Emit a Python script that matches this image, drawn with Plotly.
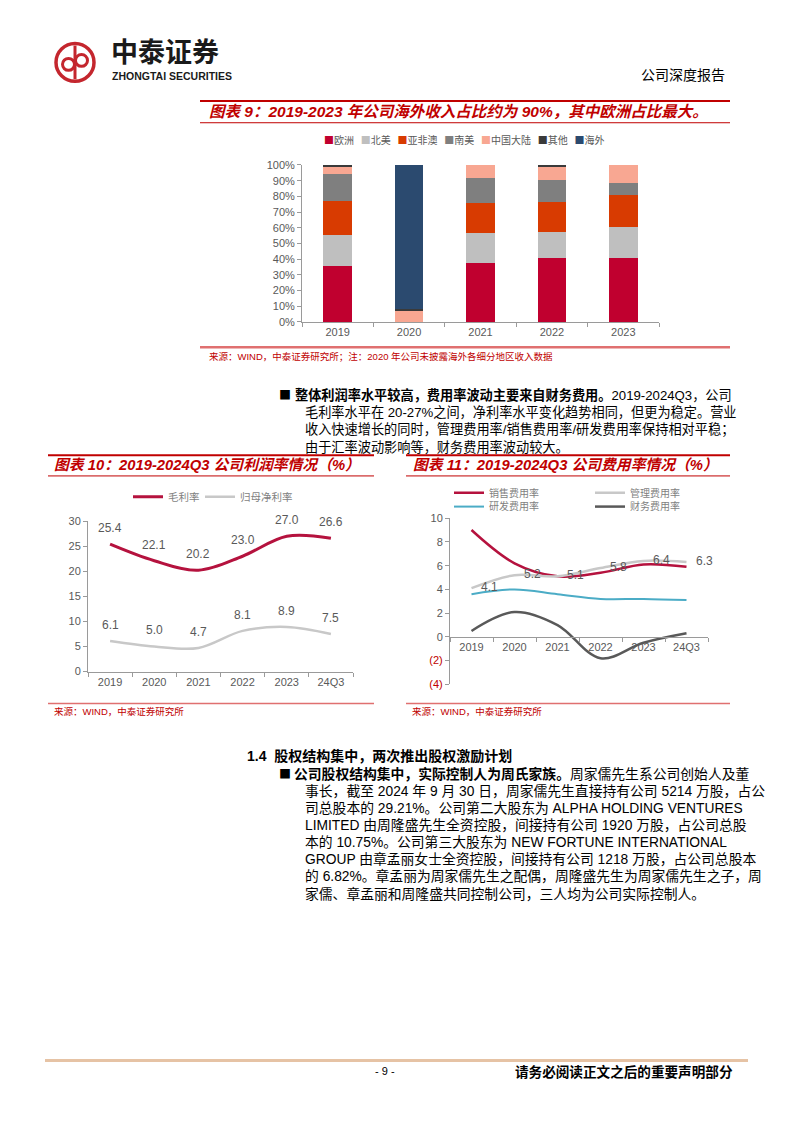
import plotly.graph_objects as go

W, H = 794, 1123


def px(x):
    return x / W


def py(y):
    return 1 - y / H


FONT = "Liberation Sans, Noto Sans CJK SC, sans-serif"
CJK = "Noto Sans CJK SC, Liberation Sans, sans-serif"
RED = "#C00000"

# ---------------- data: 图表9 ----------------
years9 = ["2019", "2020", "2021", "2022", "2023"]
europe = [35.9, 0, 37.4, 40.5, 40.5]
north_america = [19.3, 0, 19.5, 16.8, 20.0]
asia_africa_oceania = [22.1, 0, 19.1, 19.3, 20.4]
south_america = [16.8, 0, 16.0, 14.1, 7.8]
china_mainland = [5.0, 7.4, 8.0, 8.4, 11.3]
others = [0.9, 0.6, 0.0, 0.9, 0.0]
overseas = [0, 92.0, 0, 0, 0]
names9 = ["欧洲", "北美", "亚非澳", "南美", "中国大陆", "其他", "海外"]
colors9 = ["#C0002F", "#BFBFBF", "#D83B01", "#7F7F7F", "#F8A792", "#3A3A3A", "#2B4A6F"]

# ---------------- data: 图表10 / 11 ----------------
periods = ["2019", "2020", "2021", "2022", "2023", "24Q3"]
gross_margin = [25.4, 22.1, 20.2, 23.0, 27.0, 26.6]
net_margin = [6.1, 5.0, 4.7, 8.1, 8.9, 7.5]
selling_ratio = [9.0, 6.2, 5.1, 5.4, 6.1, 5.9]
admin_ratio = [4.1, 5.2, 5.1, 5.8, 6.4, 6.3]
rnd_ratio = [3.6, 4.0, 3.6, 3.2, 3.2, 3.1]
finance_ratio = [0.5, 2.1, 1.0, -1.8, -0.5, 0.3]

fig = go.Figure()

series9 = [europe, north_america, asia_africa_oceania, south_america,
           china_mainland, others, overseas]
for name, vals, col in zip(names9, series9, colors9):
    fig.add_trace(go.Bar(x=years9, y=vals, name=name, xaxis="x", yaxis="y",
                         marker=dict(color=col, line=dict(width=0)),
                         showlegend=False))

# chart 10
fig.add_trace(go.Scatter(x=periods, y=gross_margin, name="毛利率", mode="lines",
                         line=dict(color="#B5123E", width=3, shape="spline"),
                         xaxis="x2", yaxis="y2", legend="legend2"))
fig.add_trace(go.Scatter(x=periods, y=net_margin, name="归母净利率", mode="lines",
                         line=dict(color="#C8C8C8", width=2.5, shape="spline"),
                         xaxis="x2", yaxis="y2", legend="legend5"))

# chart 11
fig.add_trace(go.Scatter(x=periods, y=selling_ratio, name="销售费用率", mode="lines",
                         line=dict(color="#B5123E", width=2.5, shape="spline"),
                         xaxis="x3", yaxis="y3", legend="legend3"))
fig.add_trace(go.Scatter(x=periods, y=admin_ratio, name="管理费用率", mode="lines",
                         line=dict(color="#C8C8C8", width=2.5, shape="spline"),
                         xaxis="x3", yaxis="y3", legend="legend3"))
fig.add_trace(go.Scatter(x=periods, y=rnd_ratio, name="研发费用率", mode="lines",
                         line=dict(color="#4BACC6", width=2, shape="spline"),
                         xaxis="x3", yaxis="y3", legend="legend4"))
fig.add_trace(go.Scatter(x=periods, y=finance_ratio, name="财务费用率", mode="lines",
                         line=dict(color="#595959", width=2.5, shape="spline"),
                         xaxis="x3", yaxis="y3", legend="legend4"))

ann = []


def txt(x, y, text, size=13, color="#000000", anchor="left", family=CJK, **kw):
    ann.append(dict(x=px(x), y=py(y), xref="paper", yref="paper", text=text,
                    showarrow=False, xanchor=anchor, yanchor="middle",
                    font=dict(size=size, color=color, family=family), **kw))


LABF = dict(size=12, color="#595959", family=FONT)
# data labels chart 10 (category index positions)
for i, v in enumerate(gross_margin):
    ann.append(dict(x=i, y=v, xref="x2", yref="y2", text=f"{v:.1f}", showarrow=False,
                    yshift=16, font=LABF))
for i, v in enumerate(net_margin):
    ann.append(dict(x=i, y=v, xref="x2", yref="y2", text=f"{v:.1f}", showarrow=False,
                    yshift=16, font=LABF))
# data labels chart 11
for i, v in enumerate(admin_ratio):
    ann.append(dict(x=i, y=v, xref="x3", yref="y3", text=f"{v:.1f}", showarrow=False,
                    xshift=18, yshift=1, font=LABF))

# legend for chart 9 (compact square markers)
leg9 = "   ".join(f'<span style="color:{c}">■</span>{n}' for n, c in zip(names9, colors9))
txt(322, 135, leg9, size=10, color="#595959")

# header
txt(109, 45, "<b>中泰证券</b>", size=27, color="#1A1A1A")
txt(110, 71, "<b>ZHONGTAI SECURITIES</b>", size=10.5, color="#1A1A1A", family=FONT)
txt(727, 69, "公司深度报告", size=14, color="#000000", anchor="right")

# chart titles
txt(207, 107, "<b><i>图表 9：2019-2023 年公司海外收入占比约为 90%，其中欧洲占比最大。</i></b>",
    size=15.5, color=RED, family=FONT)
txt(52, 464, "<b><i>图表 10：2019-2024Q3 公司利润率情况（%）</i></b>",
    size=14.8, color=RED, family=FONT)
txt(411, 464, "<b><i>图表 11：2019-2024Q3 公司费用率情况（%）</i></b>",
    size=14.8, color=RED, family=FONT)

# sources
txt(207, 354, "来源：WIND，中泰证券研究所；注：2020 年公司未披露海外各细分地区收入数据",
    size=9.5, color=RED, family=FONT)
txt(52, 713, "来源：WIND，中泰证券研究所", size=9.5, color=RED, family=FONT)
txt(410, 713, "来源：WIND，中泰证券研究所", size=9.5, color=RED, family=FONT)

# paragraph 1
txt(277, 393, "■", size=12)
txt(293, 393, "<b>整体利润率水平较高，费用率波动主要来自财务费用。</b>2019-2024Q3，公司",
    size=13.2, family=FONT)
para1 = [
    "毛利率水平在 20-27%之间，净利率水平变化趋势相同，但更为稳定。营业",
    "收入快速增长的同时，管理费用率/销售费用率/研发费用率保持相对平稳；",
    "由于汇率波动影响等，财务费用率波动较大。",
]
for i, line in enumerate(para1):
    txt(303, 410.6 + 17.7 * i, line, size=13.2, family=FONT)

# section 1.4
txt(245, 758, "<b>1.4  股权结构集中，两次推出股权激励计划</b>", size=14, family=FONT)
txt(277, 776, "■", size=12)
txt(292, 776, "<b>公司股权结构集中，实际控制人为周氏家族。</b>周家儒先生系公司创始人及董",
    size=13.8, family=FONT)
para2 = [
    "事长，截至 2024 年 9 月 30 日，周家儒先生直接持有公司 5214 万股，占公",
    "司总股本的 29.21%。公司第二大股东为 ALPHA HOLDING VENTURES",
    "LIMITED 由周隆盛先生全资控股，间接持有公司 1920 万股，占公司总股",
    "本的 10.75%。公司第三大股东为 NEW FORTUNE INTERNATIONAL",
    "GROUP 由章孟丽女士全资控股，间接持有公司 1218 万股，占公司总股本",
    "的 6.82%。章孟丽为周家儒先生之配偶，周隆盛先生为周家儒先生之子，周",
    "家儒、章孟丽和周隆盛共同控制公司，三人均为公司实际控制人。",
]
for i, line in enumerate(para2):
    txt(303, 793.3 + 17.3 * i, line, size=13.8, family=FONT)

# footer
txt(385, 1077, "- 9 -", size=11, anchor="center", family=FONT)
txt(735, 1077, "<b>请务必阅读正文之后的重要声明部分</b>", size=13.6, anchor="right")

shapes = []


def hline(x0, x1, y, color, width):
    shapes.append(dict(type="line", xref="paper", yref="paper", x0=px(x0), x1=px(x1),
                       y0=py(y), y1=py(y), line=dict(color=color, width=width)))


hline(200, 730, 96, RED, 2)
hline(200, 730, 118, RED, 1)
hline(200, 730, 345, "#E07070", 2.5)
hline(48, 374, 454, RED, 2)
hline(48, 374, 475, RED, 1)
hline(406, 730, 454, RED, 2)
hline(406, 730, 475, RED, 1)
hline(48, 374, 705, "#E07070", 1.5)
hline(406, 730, 705, "#E07070", 1.5)
hline(45, 748, 1066, "#E6C3A5", 3)

# logo
LOGO = "#C4262E"
cx, cy, r = 75, 57, 19
shapes.append(dict(type="circle", xref="paper", yref="paper",
                   x0=px(cx - r), x1=px(cx + r), y0=py(cy + r), y1=py(cy - r),
                   line=dict(color=LOGO, width=3.5)))
for ox, oy in [(-6.5, 2), (6.5, -2)]:
    shapes.append(dict(type="circle", xref="paper", yref="paper",
                       x0=px(cx + ox - 6), x1=px(cx + ox + 6),
                       y0=py(cy + oy + 6), y1=py(cy + oy - 6),
                       line=dict(color=LOGO, width=3)))
shapes.append(dict(type="line", xref="paper", yref="paper", x0=px(cx), x1=px(cx),
                   y0=py(cy - r + 2), y1=py(cy + r - 2), line=dict(color=LOGO, width=3)))

AX = "#9A9A9A"
TICKF = dict(size=11, color="#595959", family=FONT)
common_x = dict(type="category", showline=True, linecolor=AX, ticks="outside",
                tickson="boundaries", ticklen=4, tickcolor=AX, showgrid=False,
                zeroline=False, tickfont=TICKF, fixedrange=True)
common_y = dict(showline=True, linecolor=AX, ticks="outside", ticklen=4, tickcolor=AX,
                showgrid=False, zeroline=False, tickfont=TICKF, fixedrange=True)

y3_vals = [-4, -2, 0, 2, 4, 6, 8, 10]
y3_text = ['<span style="color:#C00000">(4)</span>', '<span style="color:#C00000">(2)</span>',
           "0", "2", "4", "6", "8", "10"]


def leg(x, y, ew=None, size=10.5):
    d = dict(orientation="h", x=px(x), y=py(y), xanchor="left", yanchor="middle",
             font=dict(size=size, color="#7F7F7F", family=CJK),
             bgcolor="rgba(0,0,0,0)", tracegroupgap=0)
    if ew:
        d["entrywidth"] = ew
    return d


fig.update_layout(
    width=W, height=H, margin=dict(l=0, r=0, t=0, b=0),
    paper_bgcolor="white", plot_bgcolor="white",
    barmode="stack", bargap=0.6,
    font=dict(family=FONT),
    xaxis=dict(domain=[px(302), px(659)], anchor="y", range=[-0.5, 4.5], **common_x),
    yaxis=dict(domain=[py(319.3), py(160.7)], anchor="x", range=[0, 100], dtick=10,
               ticksuffix="%", **common_y),
    xaxis2=dict(domain=[px(88), px(353)], anchor="y2", range=[-0.5, 5.5], **common_x),
    yaxis2=dict(domain=[py(672.7), py(520.7)], anchor="x2", range=[0, 30], dtick=5,
                **common_y),
    xaxis3=dict(domain=[px(450), px(708)], anchor="free", position=py(637.7),
                range=[-0.5, 5.5], **common_x),
    yaxis3=dict(domain=[py(685.7), py(517.7)], anchor="x3", range=[-4, 10],
                tickvals=y3_vals, ticktext=y3_text, **common_y),
    legend2=leg(128, 496),
    legend5=leg(200, 496),
    legend3=leg(449, 492, 96, size=10),
    legend4=leg(449, 506, 96, size=10),
    annotations=ann,
    shapes=shapes,
)

fig.write_html("out.html")
